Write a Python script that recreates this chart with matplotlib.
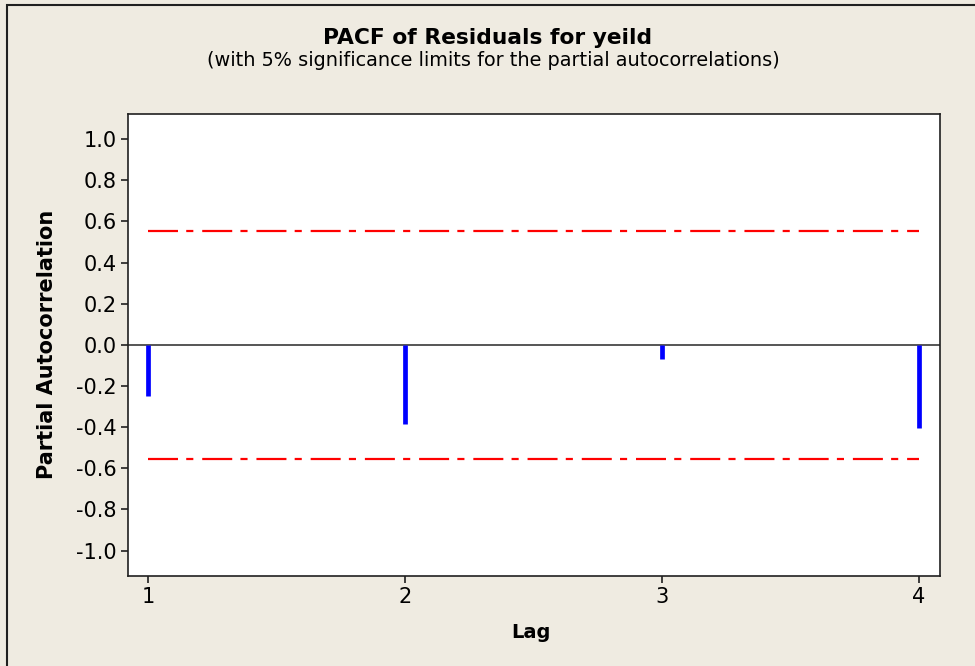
import matplotlib
matplotlib.use("Agg")
import matplotlib.pyplot as plt
from matplotlib.patches import Rectangle

# PACF values
lags = [1, 2, 3, 4]
pacf = [-0.25, -0.385, -0.07, -0.405]
limit = 0.555  # 5% significance limit
yticks = [-1.0, -0.8, -0.6, -0.4, -0.2, 0.0, 0.2, 0.4, 0.6, 0.8, 1.0]

bg = '#EFEBE1'
plt.rcParams['font.family'] = 'DejaVu Sans'

fig = plt.figure(figsize=(9.75, 6.66), dpi=100, facecolor=bg)
ax = fig.add_axes([0.1313, 0.1357, 0.8328, 0.6931])

# outer frame of the graph window
fig.patches.append(Rectangle((7 / 975, -0.05), 1.1, 1 - 5 / 666 + 0.05,
                             transform=fig.transFigure, fill=False,
                             edgecolor='#202020', linewidth=1.5))

ax.axhline(0, color='#383838', linewidth=1.2, zorder=2)
ax.vlines(lags, 0, pacf, colors='#0000FF', linewidth=3.4, capstyle='butt', zorder=3)

dash = (0, (13.5, 3.7, 3.2, 4.0))
ax.plot([lags[0], lags[-1]], [limit, limit], color='#FF0000', linewidth=1.6, linestyle=dash)
ax.plot([lags[0], lags[-1]], [-limit, -limit], color='#FF0000', linewidth=1.6, linestyle=dash)

ax.set_xlim(0.922, 4.082)
ax.set_ylim(-1.122, 1.122)
ax.set_xticks(lags)
ax.set_yticks(yticks)
ax.set_yticklabels(['%.1f' % v for v in yticks])
ax.tick_params(labelsize=15, length=5, width=1.2, color='#202020', pad=3)

for s in ax.spines.values():
    s.set_linewidth(1.2)
    s.set_color('#202020')

ax.set_xlabel('Lag', fontsize=14, fontweight='bold')
ax.set_ylabel('Partial Autocorrelation', fontsize=15, fontweight='bold')
ax.xaxis.set_label_coords(0.496, -0.103)
ax.yaxis.set_label_coords(-0.088, 0.5)

fig.text(0.5, 1 - 38 / 666, 'PACF of Residuals for yeild', ha='center', va='center',
         fontsize=15.7, fontweight='bold')
fig.text(0.506, 1 - 61 / 666,
         '(with 5% significance limits for the partial autocorrelations)',
         ha='center', va='center', fontsize=13.9)

fig.savefig('out.png', dpi=100, facecolor=bg)
